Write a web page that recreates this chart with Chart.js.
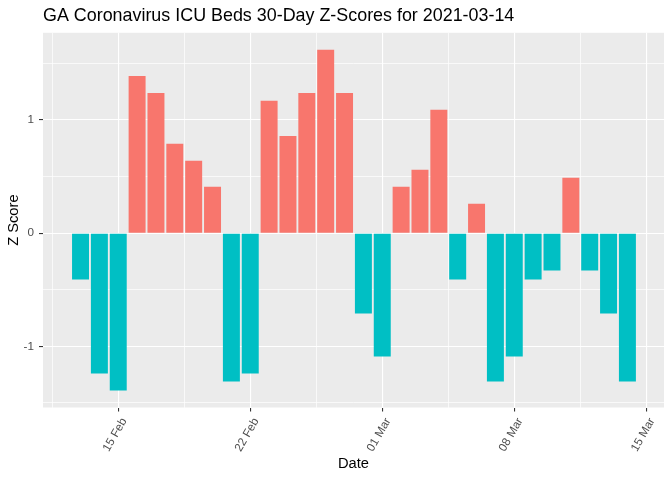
<!DOCTYPE html>
<html>
<head>
<meta charset="utf-8">
<script src="https://cdn.jsdelivr.net/npm/chart.js@4.4.1/dist/chart.umd.min.js"></script>
<style>
  html, body { margin: 0; padding: 0; background: #fff; }
  #wrap { width: 672px; height: 480px; }
</style>
</head>
<body>
<div id="wrap"><canvas id="chart"></canvas></div>
<script>
// data
var dates = [
  '2021-02-13', '2021-02-14', '2021-02-15', '2021-02-16', '2021-02-17',
  '2021-02-18', '2021-02-19', '2021-02-20', '2021-02-21', '2021-02-22',
  '2021-02-23', '2021-02-24', '2021-02-25', '2021-02-26', '2021-02-27',
  '2021-02-28', '2021-03-01', '2021-03-02', '2021-03-03', '2021-03-04',
  '2021-03-05', '2021-03-06', '2021-03-07', '2021-03-08', '2021-03-09',
  '2021-03-10', '2021-03-11', '2021-03-12', '2021-03-13', '2021-03-14'
];
var zScores = [
  -0.41, -1.24, -1.39, 1.39, 1.24,
  0.79, 0.64, 0.41, -1.31, -1.24,
  1.17, 0.86, 1.24, 1.62, 1.24,
  -0.71, -1.09, 0.41, 0.56, 1.09,
  -0.41, 0.26, -1.31, -1.09, -0.41,
  -0.33, 0.49, -0.33, -0.71, -1.31
];
var xTickDates = ['2021-02-15', '2021-02-22', '2021-03-01', '2021-03-08', '2021-03-15'];
var xTickLabels = ['15 Feb', '22 Feb', '01 Mar', '08 Mar', '15 Mar'];
var yTicks = [-1, 0, 1];
var yTickLabels = ['-1', '0', '1'];

var POS = '#F8766D', NEG = '#00BFC4';

// days since first major tick, so the x axis is a plain linear scale
function dayNum(s) {
  var p = s.split('-');
  return (Date.UTC(+p[0], +p[1] - 1, +p[2]) - Date.UTC(2021, 1, 15)) / 864e5;
}

var xMajor = xTickDates.map(dayNum);
var xMinor = [];
for (var i = 0; i < xMajor.length; i++) xMinor.push(xMajor[i] - 3.5);
var yMinor = [-1.5, -0.5, 0.5, 1.5];

var points = dates.map(function (d, i) { return { x: dayNum(d), y: zScores[i] }; });
var colors = zScores.map(function (v) { return v > 0 ? POS : NEG; });

var panelBg = {
  id: 'panelBg',
  beforeDraw: function (chart) {
    var a = chart.chartArea, ctx = chart.ctx;
    ctx.save();
    ctx.fillStyle = '#EBEBEB';
    ctx.fillRect(a.left, a.top, a.right - a.left, a.bottom - a.top);
    ctx.restore();
  }
};

function isMajor(list, v) {
  return list.some(function (m) { return Math.abs(m - v) < 1e-6; });
}

new Chart(document.getElementById('chart'), {
  type: 'bar',
  data: {
    datasets: [{
      data: points,
      backgroundColor: colors,
      borderWidth: 0,
      barPercentage: 0.9,
      categoryPercentage: 1.0
    }]
  },
  options: {
    responsive: true,
    maintainAspectRatio: false,
    animation: false,
    layout: { padding: { left: 0, right: 8, top: 0, bottom: 0 } },
    plugins: {
      legend: { display: false },
      tooltip: { enabled: false },
      title: {
        display: true,
        text: 'GA Coronavirus ICU Beds 30-Day Z-Scores for 2021-03-14',
        align: 'start',
        fullSize: false,
        color: '#000',
        font: { family: 'Liberation Sans, Arial, sans-serif', size: 17.9, weight: 'normal', lineHeight: 1.2 },
        padding: { top: 5.3, bottom: 6.0 }
      }
    },
    scales: {
      x: {
        type: 'linear',
        min: -3.99,
        max: 28.94,
        offset: false,
        afterBuildTicks: function (scale) {
          scale.ticks = xMinor.concat(xMajor).sort(function (a, b) { return a - b; })
            .filter(function (v) { return v >= scale.min && v <= scale.max; })
            .map(function (v) { return { value: v }; });
        },
        afterFit: function (scale) { scale.height = 72.5; },
        border: { display: false },
        grid: {
          offset: false,
          color: '#FFFFFF',
          lineWidth: function (c) { return c.tick && isMajor(xMajor, c.tick.value) ? 1.1 : 0.7; },
          tickColor: function (c) { return c.tick && isMajor(xMajor, c.tick.value) ? '#333333' : 'rgba(0,0,0,0)'; },
          tickLength: 4
        },
        ticks: {
          autoSkip: false,
          minRotation: 60,
          maxRotation: 60,
          padding: 4,
          labelOffset: 6,
          color: '#4D4D4D',
          font: { family: 'Liberation Sans, Arial, sans-serif', size: 11.7 },
          callback: function (v) {
            var k = xMajor.findIndex(function (m) { return Math.abs(m - v) < 1e-6; });
            return k >= 0 ? xTickLabels[k] : '';
          }
        },
        title: {
          display: true,
          text: 'Date',
          color: '#000',
          font: { family: 'Liberation Sans, Arial, sans-serif', size: 14.7 },
          padding: { top: 0, bottom: 7 }
        }
      },
      y: {
        min: -1.54,
        max: 1.771,
        afterBuildTicks: function (scale) {
          scale.ticks = yMinor.concat(yTicks).sort(function (a, b) { return a - b; })
            .map(function (v) { return { value: v }; });
        },
        afterFit: function (scale) { scale.width = 43; },
        border: { display: false },
        grid: {
          color: '#FFFFFF',
          lineWidth: function (c) { return c.tick && isMajor(yTicks, c.tick.value) ? 1.1 : 0.7; },
          tickColor: function (c) { return c.tick && isMajor(yTicks, c.tick.value) ? '#333333' : 'rgba(0,0,0,0)'; },
          tickLength: 4
        },
        ticks: {
          padding: 5,
          color: '#4D4D4D',
          font: { family: 'Liberation Sans, Arial, sans-serif', size: 11.7 },
          callback: function (v) {
            var k = yTicks.indexOf(v);
            return k >= 0 ? yTickLabels[k] : '';
          }
        },
        title: {
          display: true,
          text: 'Z Score',
          color: '#000',
          font: { family: 'Liberation Sans, Arial, sans-serif', size: 14.7 },
          padding: { top: 5, bottom: 0 }
        }
      }
    }
  },
  plugins: [panelBg]
});
</script>
</body>
</html>
